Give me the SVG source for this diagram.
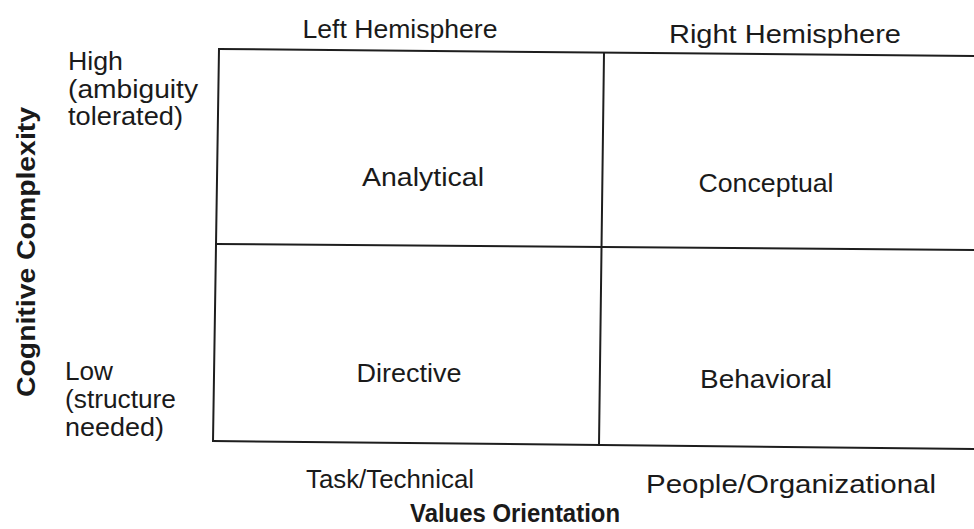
<svg xmlns="http://www.w3.org/2000/svg" width="974" height="529" viewBox="0 0 974 529">
  <style>
    .t { font-family: "Liberation Sans", "Open Sans", sans-serif; font-size: 26px; fill: #1a1a1a; }
    .c { text-anchor: middle; }
    .b { font-weight: bold; }
    .grid line { stroke: #1e1e1e; stroke-width: 2; stroke-linecap: square; fill: none; }
  </style>
  <rect width="974" height="529" fill="#ffffff"/>

  <!-- quadrant grid -->
  <g id="connectors" class="grid">
    <line x1="219" y1="49" x2="974" y2="56"/>
    <line x1="213" y1="441" x2="974" y2="449"/>
    <line x1="219" y1="49" x2="213" y2="441"/>
    <line x1="604" y1="53" x2="599" y2="445"/>
    <line x1="216" y1="244" x2="974" y2="250"/>
  </g>

  <!-- column headers -->
  <g id="left-hemisphere"><text class="t c" x="400" y="38" textLength="195" lengthAdjust="spacingAndGlyphs">Left Hemisphere</text></g>
  <g id="right-hemisphere"><text class="t c" x="785" y="43" textLength="232" lengthAdjust="spacingAndGlyphs">Right Hemisphere</text></g>

  <!-- row labels -->
  <g id="high">
    <text class="t" x="68" y="70" textLength="55" lengthAdjust="spacingAndGlyphs">High</text>
    <text class="t" x="68" y="98" textLength="130" lengthAdjust="spacingAndGlyphs">(ambiguity</text>
    <text class="t" x="68" y="125" textLength="115" lengthAdjust="spacingAndGlyphs">tolerated)</text>
  </g>
  <g id="low">
    <text class="t" x="65" y="380" textLength="48" lengthAdjust="spacingAndGlyphs">Low</text>
    <text class="t" x="65" y="408" textLength="111" lengthAdjust="spacingAndGlyphs">(structure</text>
    <text class="t" x="65" y="436" textLength="99" lengthAdjust="spacingAndGlyphs">needed)</text>
  </g>

  <!-- quadrants -->
  <g id="analytical"><text class="t c" x="423" y="186" textLength="122" lengthAdjust="spacingAndGlyphs">Analytical</text></g>
  <g id="conceptual"><text class="t c" x="766" y="192" textLength="135" lengthAdjust="spacingAndGlyphs">Conceptual</text></g>
  <g id="directive"><text class="t c" x="409" y="382" textLength="105" lengthAdjust="spacingAndGlyphs">Directive</text></g>
  <g id="behavioral"><text class="t c" x="766" y="388" textLength="132" lengthAdjust="spacingAndGlyphs">Behavioral</text></g>

  <!-- bottom axis -->
  <g id="task-technical"><text class="t c" x="390" y="488" textLength="168" lengthAdjust="spacingAndGlyphs">Task/Technical</text></g>
  <g id="people-organizational"><text class="t c" x="791" y="493" textLength="290" lengthAdjust="spacingAndGlyphs">People/Organizational</text></g>
  <g id="values-orientation"><text class="t c b" x="515" y="522" textLength="210" lengthAdjust="spacingAndGlyphs">Values Orientation</text></g>

  <!-- vertical axis -->
  <g id="cognitive-complexity"><text class="t c b" transform="translate(35,252) rotate(-90)" textLength="290" lengthAdjust="spacingAndGlyphs">Cognitive Complexity</text></g>
</svg>
